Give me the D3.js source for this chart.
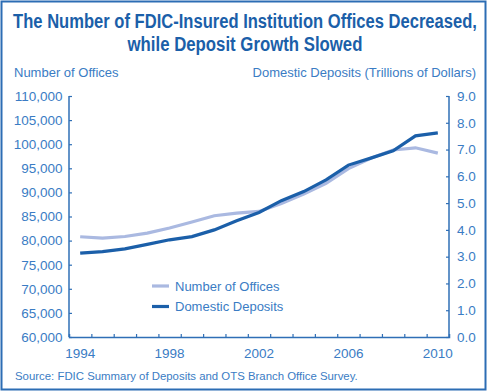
<!DOCTYPE html>
<html>
<head>
<meta charset="utf-8">
<script src="https://cdn.jsdelivr.net/npm/d3@7"></script>
<style>
  body { margin: 0; background: #fff; }
  svg { display: block; }
  text { font-family: "Liberation Sans", Arial, sans-serif; }
</style>
</head>
<body>
<div id="chart"></div>
<script>
// data
const years = [1994, 1995, 1996, 1997, 1998, 1999, 2000, 2001, 2002, 2003, 2004, 2005, 2006, 2007, 2008, 2009, 2010];
const offices = [80800, 80500, 80850, 81550, 82600, 83850, 85150, 85700, 86050, 87700, 89650, 91900, 94950, 97100, 98800, 99250, 98150];
const deposits = [3.13, 3.19, 3.29, 3.46, 3.63, 3.75, 4.0, 4.34, 4.65, 5.09, 5.43, 5.87, 6.42, 6.68, 6.95, 7.51, 7.62];
const officeTicks = [60000, 65000, 70000, 75000, 80000, 85000, 90000, 95000, 100000, 105000, 110000];
const depositTicks = [0, 1, 2, 3, 4, 5, 6, 7, 8, 9];
const yearLabels = [1994, 1998, 2002, 2006, 2010];

const W = 488, H = 392;
const dark = '#1b5fa9', light = '#aab9e1', txt = '#3a7cc4', axisCol = '#2f6fb6';

const svg = d3.select('#chart').append('svg').attr('width', W).attr('height', H);

// frame
svg.append('rect')
  .attr('x', 1.5).attr('y', 1.5).attr('width', 484).attr('height', 388)
  .attr('fill', 'none').attr('stroke', '#2c6db4').attr('stroke-width', 2);

// title, squeezed horizontally to look condensed
const titleLines = [
  { t: 'The Number of FDIC-Insured Institution Offices Decreased,', y: 28, w: 464 },
  { t: 'while Deposit Growth Slowed', y: 51, w: 235 }
];
svg.selectAll('.title').data(titleLines).join('text')
  .attr('class', 'title')
  .attr('text-anchor', 'middle')
  .attr('fill', dark)
  .style('font-weight', 'bold')
  .style('font-size', '21px')
  .text(d => d.t)
  .attr('transform', function (d) {
    const sx = d.w / this.getComputedTextLength();
    return `translate(245,${d.y}) scale(${sx},1)`;
  });

const mLeft = 69, mRight = 449, mTop = 96, mBottom = 337;

const x = d3.scaleLinear().domain([1993.5, 2010.5]).range([mLeft, mRight]);
const yL = d3.scaleLinear().domain([60000, 110000]).range([mBottom, mTop]);
const yR = d3.scaleLinear().domain([0, 9]).range([mBottom, mTop]);

// axis titles
svg.append('text').attr('x', 14).attr('y', 77).attr('fill', txt)
  .style('font-size', '13px').text('Number of Offices');
svg.append('text').attr('x', 476).attr('y', 77).attr('fill', txt)
  .attr('text-anchor', 'end').style('font-size', '13px')
  .text('Domestic Deposits (Trillions of Dollars)');

const gL = svg.append('g').attr('transform', `translate(${mLeft},0)`)
  .call(d3.axisLeft(yL).tickValues(officeTicks).tickSize(-3).tickPadding(6.5).tickFormat(d3.format(',')));
const gR = svg.append('g').attr('transform', `translate(${mRight},0)`)
  .call(d3.axisRight(yR).tickValues(depositTicks).tickSize(-3).tickPadding(8).tickFormat(d3.format('.1f')));
const gX = svg.append('g').attr('transform', `translate(0,${mBottom})`)
  .call(d3.axisBottom(x).tickValues(d3.range(1994.5, 2010, 1)).tickSize(-3).tickFormat(''));

[gL, gR, gX].forEach(g => {
  g.select('.domain').attr('stroke', axisCol).attr('stroke-width', 1.5);
  g.selectAll('.tick line').attr('stroke', axisCol).attr('stroke-width', 1.2);
  g.selectAll('.tick text').attr('fill', txt).style('font-size', '13.5px')
    .style('font-family', '"Liberation Sans", Arial, sans-serif');
});
gL.select('.domain').attr('d', `M0,${mTop}H0V${mBottom}H0`);
gR.select('.domain').attr('d', `M0,${mTop}H0V${mBottom}H0`);

// year labels
svg.append('g').selectAll('text').data(yearLabels).join('text')
  .attr('x', d => x(d)).attr('y', 358)
  .attr('text-anchor', 'middle').attr('fill', txt)
  .style('font-size', '13.5px').text(d => d);

// lines
const lineOff = d3.line().x((d, i) => x(years[i])).y(d => yL(d));
const lineDep = d3.line().x((d, i) => x(years[i])).y(d => yR(d));

svg.append('path').datum(offices).attr('d', lineOff)
  .attr('fill', 'none').attr('stroke', light).attr('stroke-width', 3.2);
svg.append('path').datum(deposits).attr('d', lineDep)
  .attr('fill', 'none').attr('stroke', dark).attr('stroke-width', 3.2);

// legend
const legend = [
  { name: 'Number of Offices', color: light },
  { name: 'Domestic Deposits', color: dark }
];
const lg = svg.append('g').selectAll('g').data(legend).join('g')
  .attr('transform', (d, i) => `translate(152,${286 + i * 20.5})`);
lg.append('line').attr('x1', 0).attr('x2', 17).attr('stroke', d => d.color).attr('stroke-width', 3.2);
lg.append('text').attr('x', 23).attr('dy', '0.35em').attr('fill', txt)
  .style('font-size', '13px').text(d => d.name);

// source
svg.append('text').attr('x', 15).attr('y', 380).attr('fill', txt)
  .style('font-size', '11.4px')
  .text('Source: FDIC Summary of Deposits and OTS Branch Office Survey.');
</script>
</body>
</html>
